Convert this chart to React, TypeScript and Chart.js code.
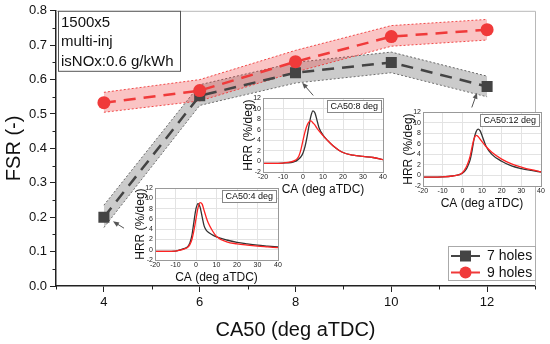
import React, { useEffect, useRef } from "react";
import { Chart, registerables } from "chart.js";

Chart.register(...registerables);
Chart.defaults.font.family = "'Liberation Sans', Arial, sans-serif";
document.body.style.margin = "0";

// ---------- main chart data ----------
const ca50 = [4, 6, 8, 10, 12];
const fsr7 = [0.2, 0.553, 0.62, 0.65, 0.58];
const fsr7Upper = [0.235, 0.585, 0.65, 0.68, 0.61];
const fsr7Lower = [0.17, 0.525, 0.59, 0.62, 0.55];
const fsr9 = [0.533, 0.568, 0.652, 0.725, 0.745];
const fsr9Upper = [0.563, 0.6, 0.685, 0.757, 0.775];
const fsr9Lower = [0.505, 0.538, 0.622, 0.697, 0.715];
const xMajorTicks = [4, 6, 8, 10, 12];
const xMinorTicks = [3, 5, 7, 9, 11, 13];
const yMinorTicks = [0.05, 0.15, 0.25, 0.35, 0.45, 0.55, 0.65, 0.75];
const infoLines = ["1500x5", "multi-inj", "isNOx:0.6 g/kWh"];
const seriesNames = ["7 holes", "9 holes"];
const arrowTails = [[4.42, 0.168], [8.37, 0.554], [11.68, 0.519]];
const arrowHeads = [[4.19, 0.188], [8.14, 0.591], [11.79, 0.562]];

// ---------- inset data ----------
const caA = [-20, -15, -10, -8, -6, -4, -3, -2, -1, 0, 1, 2, 3, 4, 5, 6, 8, 10, 15, 20, 25, 30, 35, 40];
const hrrA7 = [-0.3, -0.3, -0.25, -0.05, 0.2, 0.6, 1.3, 2.8, 5.5, 8.0, 9.0, 8.3, 6.4, 4.6, 3.8, 3.4, 2.9, 2.5, 1.9, 1.45, 1.15, 0.9, 0.72, 0.55];
const hrrA9 = [-0.3, -0.3, -0.25, -0.1, 0.1, 0.5, 1.0, 2.0, 3.8, 6.0, 8.2, 9.2, 8.9, 7.6, 6.3, 5.2, 3.7, 2.6, 1.55, 1.15, 0.9, 0.7, 0.55, 0.4];
const caB = [-20, -15, -10, -6, -4, -3, -2, -1, 0, 1, 2, 3, 4, 5, 6, 7, 8, 10, 12, 15, 20, 25, 30, 35, 40];
const hrrB7 = [-0.35, -0.35, -0.3, -0.2, 0.0, 0.2, 0.5, 0.9, 1.6, 2.8, 4.6, 6.8, 8.7, 9.6, 9.2, 7.8, 6.4, 5.0, 4.1, 3.0, 1.7, 1.2, 0.95, 0.75, 0.35];
const hrrB9 = [-0.35, -0.35, -0.3, -0.1, 0.2, 0.5, 1.1, 2.3, 4.0, 5.6, 6.8, 7.5, 7.7, 7.3, 6.9, 6.3, 5.8, 4.9, 4.1, 3.0, 1.7, 1.2, 0.95, 0.75, 0.35];
const caC = [-20, -15, -10, -5, -2, 0, 2, 3, 4, 5, 6, 7, 8, 9, 10, 12, 15, 20, 25, 30, 35, 40];
const hrrC7 = [-0.3, -0.3, -0.25, -0.1, 0.1, 0.4, 1.2, 2.0, 3.0, 4.8, 7.0, 8.3, 8.8, 8.5, 7.6, 5.6, 4.0, 2.7, 1.8, 1.3, 0.95, 0.65];
const hrrC9 = [-0.3, -0.3, -0.25, -0.1, 0.1, 0.5, 1.6, 2.5, 3.7, 5.5, 7.0, 7.6, 7.4, 6.9, 6.4, 5.5, 4.4, 3.1, 2.2, 1.6, 1.1, 0.7];

const GRAY = "#444444";
const RED = "#f03a3a";
const FONT = "'Liberation Sans', Arial, sans-serif";

const pts = (xs: number[], ys: number[]) => xs.map((x, i) => ({ x, y: ys[i] }));

function drawArrow(ctx: CanvasRenderingContext2D, x1: number, y1: number, x2: number, y2: number) {
  const ang = Math.atan2(y2 - y1, x2 - x1);
  ctx.save();
  ctx.strokeStyle = "#555";
  ctx.fillStyle = "#555";
  ctx.lineWidth = 1;
  ctx.beginPath();
  ctx.moveTo(x1, y1);
  ctx.lineTo(x2 - 3 * Math.cos(ang), y2 - 3 * Math.sin(ang));
  ctx.stroke();
  ctx.beginPath();
  ctx.moveTo(x2, y2);
  ctx.lineTo(x2 - 6 * Math.cos(ang) + 2.5 * Math.sin(ang), y2 - 6 * Math.sin(ang) - 2.5 * Math.cos(ang));
  ctx.lineTo(x2 - 6 * Math.cos(ang) - 2.5 * Math.sin(ang), y2 - 6 * Math.sin(ang) + 2.5 * Math.cos(ang));
  ctx.closePath();
  ctx.fill();
  ctx.restore();
}

const mainDecor = {
  id: "mainDecor",
  afterDraw(chart: any) {
    const { ctx, chartArea: a, scales } = chart;
    const sx = scales.x, sy = scales.y;
    ctx.save();
    // frame top/right
    ctx.strokeStyle = "#b8b8b8";
    ctx.lineWidth = 1;
    ctx.beginPath();
    ctx.moveTo(a.left, a.top + 0.5);
    ctx.lineTo(a.right + 0.5, a.top + 0.5);
    ctx.lineTo(a.right + 0.5, a.bottom);
    ctx.stroke();
    // minor ticks
    ctx.strokeStyle = "#222";
    ctx.lineWidth = 1;
    ctx.beginPath();
    xMinorTicks.forEach((v) => {
      const px = Math.round(sx.getPixelForValue(v)) + 0.5;
      ctx.moveTo(px, a.bottom);
      ctx.lineTo(px, a.bottom + 3.5);
    });
    yMinorTicks.forEach((v) => {
      const py = Math.round(sy.getPixelForValue(v)) + 0.5;
      ctx.moveTo(a.left, py);
      ctx.lineTo(a.left - 3.5, py);
    });
    ctx.stroke();
    // arrows
    arrowTails.forEach((t, i) => {
      const h = arrowHeads[i];
      drawArrow(ctx, sx.getPixelForValue(t[0]), sy.getPixelForValue(t[1]), sx.getPixelForValue(h[0]), sy.getPixelForValue(h[1]));
    });
    // info box
    const bx = a.left + 2, by = a.top, bw = 122, bh = 60;
    ctx.fillStyle = "#fff";
    ctx.fillRect(bx, by, bw, bh);
    ctx.strokeStyle = "#555";
    ctx.strokeRect(bx + 0.5, by + 0.5, bw, bh);
    ctx.fillStyle = "#111";
    ctx.font = `15px ${FONT}`;
    ctx.textBaseline = "middle";
    ctx.textAlign = "left";
    infoLines.forEach((s, i) => ctx.fillText(s, bx + 3, by + 12 + i * 19.5));
    // legend
    const lw = 87, lh = 34;
    const lx = a.right - lw, ly = a.bottom - 6 - lh;
    ctx.fillStyle = "#fff";
    ctx.fillRect(lx, ly, lw, lh);
    ctx.strokeStyle = "#aaa";
    ctx.strokeRect(lx + 0.5, ly + 0.5, lw, lh);
    const colors = [GRAY, RED];
    seriesNames.forEach((name, i) => {
      const cy = ly + 10 + i * 16.5;
      ctx.strokeStyle = colors[i];
      ctx.lineWidth = 2;
      ctx.beginPath();
      ctx.moveTo(lx + 3, cy);
      ctx.lineTo(lx + 32, cy);
      ctx.stroke();
      ctx.fillStyle = colors[i];
      if (i === 0) {
        ctx.fillRect(lx + 12, cy - 5.5, 11, 11);
      } else {
        ctx.beginPath();
        ctx.arc(lx + 17.5, cy, 6, 0, Math.PI * 2);
        ctx.fill();
      }
      ctx.fillStyle = "#111";
      ctx.font = `14px ${FONT}`;
      ctx.fillText(name, lx + 39, cy + 0.5);
    });
    ctx.restore();
  },
};

function MainChart() {
  const ref = useRef<HTMLCanvasElement>(null);
  useEffect(() => {
    const chart = new Chart(ref.current!, {
      type: "line",
      data: {
        datasets: [
          {
            label: seriesNames[1],
            data: pts(ca50, fsr9),
            borderColor: RED,
            backgroundColor: RED,
            borderWidth: 2.5,
            borderDash: [12, 8],
            pointStyle: "circle",
            pointRadius: 6.5,
            pointBorderWidth: 0,
            fill: false,
          },
          {
            label: seriesNames[0],
            data: pts(ca50, fsr7),
            borderColor: GRAY,
            backgroundColor: GRAY,
            borderWidth: 2.5,
            borderDash: [12, 8],
            pointStyle: "rect",
            pointRadius: 7.8,
            pointBorderWidth: 0,
            fill: false,
          },
          {
            data: pts(ca50, fsr9Upper),
            borderColor: "rgba(240,58,58,0.9)",
            borderWidth: 1,
            borderDash: [2, 2],
            pointRadius: 0,
            backgroundColor: "rgba(240,60,60,0.3)",
            fill: "+1",
          },
          {
            data: pts(ca50, fsr9Lower),
            borderColor: "rgba(240,58,58,0.9)",
            borderWidth: 1,
            borderDash: [2, 2],
            pointRadius: 0,
            fill: false,
          },
          {
            data: pts(ca50, fsr7Upper),
            borderColor: "#666",
            borderWidth: 1,
            borderDash: [2, 2],
            pointRadius: 0,
            backgroundColor: "rgba(140,140,140,0.45)",
            fill: "+1",
          },
          {
            data: pts(ca50, fsr7Lower),
            borderColor: "#666",
            borderWidth: 1,
            borderDash: [2, 2],
            pointRadius: 0,
            fill: false,
          },
        ],
      },
      options: {
        animation: false,
        responsive: false,
        layout: { padding: { left: 0, top: 10, right: 15, bottom: 0 } },
        plugins: { legend: { display: false }, tooltip: { enabled: false } },
        scales: {
          x: {
            type: "linear",
            min: 3,
            max: 13,
            afterBuildTicks: (s: any) => {
              s.ticks = xMajorTicks.map((v) => ({ value: v }));
            },
            afterFit: (s: any) => {
              s.height = 58;
            },
            ticks: { font: { size: 13 }, color: "#111", padding: 3, maxRotation: 0 },
            grid: { drawOnChartArea: false, drawTicks: true, tickLength: 6, color: "#222", lineWidth: 1 },
            border: { display: true, color: "#222", width: 1.5 },
            title: { display: true, text: "CA50 (deg aTDC)", font: { size: 20 }, color: "#111", padding: { top: 0, bottom: 2 } },
          },
          y: {
            min: 0,
            max: 0.8,
            afterFit: (s: any) => {
              s.width = 56;
            },
            ticks: { stepSize: 0.1, font: { size: 13 }, color: "#111", padding: 3, callback: (v: any) => Number(v).toFixed(1) },
            grid: { drawOnChartArea: false, drawTicks: true, tickLength: 6, color: "#222", lineWidth: 1 },
            border: { display: true, color: "#222", width: 1.5 },
            title: { display: true, text: "FSR (-)", font: { size: 20 }, color: "#111", padding: { top: 2, bottom: 0 } },
          },
        },
      },
      plugins: [mainDecor],
    } as any);
    return () => chart.destroy();
  }, []);
  return <canvas ref={ref} width={550} height={344} style={{ position: "absolute", left: 0, top: 0 }} />;
}

function insetDecor(label: string) {
  return {
    id: "insetDecor",
    beforeDraw(chart: any) {
      const { ctx, chartArea: a } = chart;
      ctx.save();
      ctx.fillStyle = "#fff";
      ctx.fillRect(a.left, a.top, a.right - a.left, a.bottom - a.top);
      ctx.restore();
    },
    afterDraw(chart: any) {
      const { ctx, chartArea: a } = chart;
      ctx.save();
      ctx.strokeStyle = "#999";
      ctx.lineWidth = 1;
      ctx.strokeRect(Math.round(a.left) + 0.5, Math.round(a.top) + 0.5, Math.round(a.right - a.left), Math.round(a.bottom - a.top));
      ctx.font = `9px ${FONT}`;
      const tw = ctx.measureText(label).width;
      const bw = tw + 6, bh = 12;
      const bx = a.right - bw - 2, by = a.top + 2;
      ctx.fillStyle = "#fff";
      ctx.fillRect(bx, by, bw, bh);
      ctx.strokeStyle = "#888";
      ctx.strokeRect(Math.round(bx) + 0.5, Math.round(by) + 0.5, Math.round(bw), bh);
      ctx.fillStyle = "#111";
      ctx.textBaseline = "middle";
      ctx.fillText(label, bx + 3, by + bh / 2 + 0.5);
      ctx.restore();
    },
  };
}

type InsetProps = { L: number; T: number; R: number; B: number; label: string; ca: number[]; h7: number[]; h9: number[] };

function Inset({ L, T, R, B, label, ca, h7, h9 }: InsetProps) {
  const ref = useRef<HTMLCanvasElement>(null);
  const yW = 24, xH = 28, padT = 4, padR = 6;
  const w = R - L + yW + padR;
  const h = B - T + padT + xH;
  useEffect(() => {
    const tickFont = { size: 7 };
    const chart = new Chart(ref.current!, {
      type: "line",
      data: {
        datasets: [
          { data: pts(ca, h9), borderColor: "#f22", borderWidth: 1.3, pointRadius: 0, cubicInterpolationMode: "monotone", fill: false },
          { data: pts(ca, h7), borderColor: "#333", borderWidth: 1.3, pointRadius: 0, cubicInterpolationMode: "monotone", fill: false },
        ],
      },
      options: {
        animation: false,
        responsive: false,
        layout: { padding: { left: 0, top: padT, right: padR, bottom: 0 } },
        plugins: { legend: { display: false }, tooltip: { enabled: false } },
        scales: {
          x: {
            type: "linear",
            min: -20,
            max: 40,
            afterFit: (s: any) => {
              s.height = xH;
            },
            ticks: { stepSize: 10, font: tickFont, color: "#222", padding: 1, maxRotation: 0, autoSkip: false },
            grid: { color: "#e3e3e3", drawTicks: false },
            border: { display: true, color: "#999" },
            title: { display: true, text: "CA (deg aTDC)", font: { size: 12 }, color: "#111", padding: { top: 0, bottom: 3 } },
          },
          y: {
            min: -2,
            max: 12,
            afterFit: (s: any) => {
              s.width = yW;
            },
            ticks: { stepSize: 2, font: tickFont, color: "#222", padding: 2, autoSkip: false },
            grid: { color: "#e3e3e3", drawTicks: false },
            border: { display: true, color: "#999" },
            title: { display: true, text: "HRR (%/deg)", font: { size: 12 }, color: "#111", padding: { top: 2, bottom: 0 } },
          },
        },
      },
      plugins: [insetDecor(label)],
    } as any);
    return () => chart.destroy();
  }, []);
  return <canvas ref={ref} width={w} height={h} style={{ position: "absolute", left: L - yW, top: T - padT }} />;
}

export default function App() {
  return (
    <div style={{ position: "relative", width: 550, height: 344, overflow: "hidden", background: "#fff" }}>
      <MainChart />
      <Inset L={263} T={96} R={383} B={172} label="CA50:8 deg" ca={caB} h7={hrrB7} h9={hrrB9} />
      <Inset L={423} T={110} R={541} B={186} label="CA50:12 deg" ca={caC} h7={hrrC7} h9={hrrC9} />
      <Inset L={155} T={186} R={278} B={260} label="CA50:4 deg" ca={caA} h7={hrrA7} h9={hrrA9} />
    </div>
  );
}
